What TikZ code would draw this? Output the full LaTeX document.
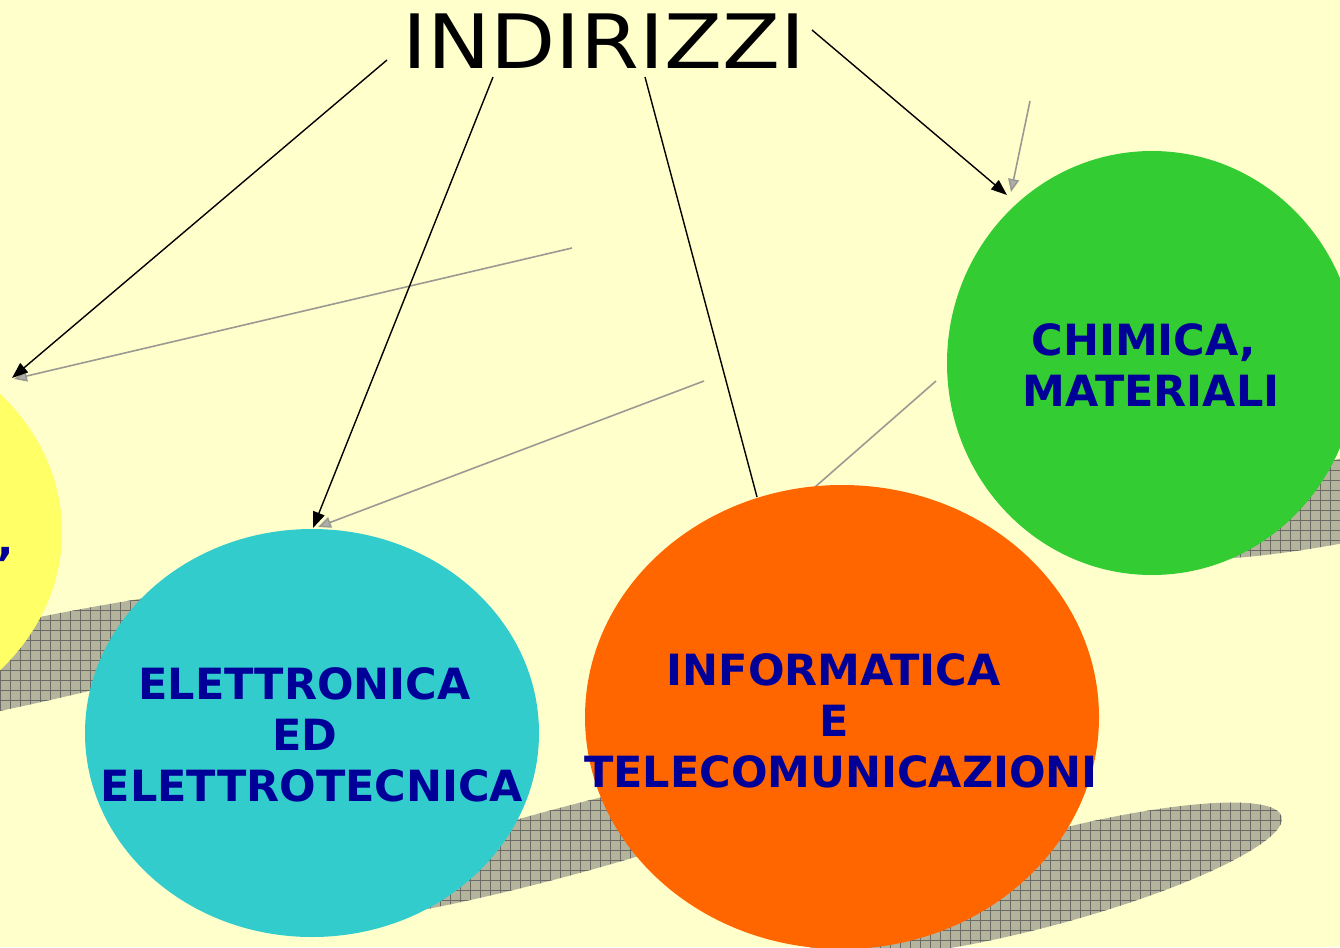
\documentclass[tikz,border=0pt]{standalone}
\usepackage{fontspec}
\setmainfont{DejaVu Sans}
\usetikzlibrary{arrows.meta,shapes.geometric}
\definecolor{bgc}{HTML}{FFFFCC}
\definecolor{ycol}{HTML}{FFFF66}
\definecolor{ccol}{HTML}{33CCCC}
\definecolor{ocol}{HTML}{FF6600}
\definecolor{gcol}{HTML}{33CC33}
\definecolor{tblue}{HTML}{000099}
\definecolor{shadowc}{HTML}{B4B49C}
\definecolor{gridc}{HTML}{6A6A66}
\definecolor{garrc}{HTML}{9A9A92}
\newcommand\shadowell[5]{%
  \begin{scope}
    \clip[shift={(#1,#2)},rotate=#3] (0,0) ellipse [x radius=#4pt,y radius=#5pt];
    \fill[shadowc] (-20,-20) rectangle (1400,1000);
    \draw[gridl,step=10pt] (-20,1000) grid (1400,-20);
  \end{scope}}
\newcommand\trsp{\hbox to 0.34em{}}
\begin{document}
\begin{tikzpicture}[x=1pt,y=-1pt,
  circ/.style={ellipse, inner sep=0pt, draw=none},
  lbl/.style={text=tblue, font=\bfseries\fontsize{43}{51}\selectfont, align=center, inner sep=0pt},
  arr/.style={line width=1.4pt, -{Triangle[length=16pt,width=12pt]}},
  garr/.style={line width=1.6pt, draw=garrc, -{Triangle[length=13pt,width=11pt,fill=garrc!80]}},
  gline/.style={line width=1.6pt, draw=garrc},
  gridl/.style={draw=gridc, line width=0.6pt}]
\useasboundingbox (0,0) rectangle (1340,947);
\fill[bgc] (0,0) rectangle (1340,947);
% shadows
\shadowell{0}{668}{12}{380}{42}
\shadowell{560}{843}{15}{290}{34}
\shadowell{1045}{880}{15}{245}{46}
\shadowell{1370}{495}{12}{240}{42}
% title
\node[font=\fontsize{75}{90}\selectfont, xscale=1.13, inner sep=0pt] (title) at (604,41) {INDIRIZZI};
% coordinates
\coordinate (s1) at (387,60);   \coordinate (t1) at (12,378);
\coordinate (s2) at (493,77);   \coordinate (t2) at (313,528);
\coordinate (s3) at (645,77);   \coordinate (t3) at (757,497);
\coordinate (s4) at (812,30);   \coordinate (t4) at (1007,195);
\coordinate (g1s) at (572,248); \coordinate (g1t) at (14,379);
\coordinate (g2s) at (704,381); \coordinate (g2t) at (318,527);
\coordinate (g3s) at (936,381); \coordinate (g3t) at (815,487);
\coordinate (g4s) at (1030,101);\coordinate (g4t) at (1011,192);
% grey arrows
\draw[garr] (g1s) -- (g1t);
\draw[garr] (g2s) -- (g2t);
\draw[gline] (g3s) -- (g3t);
\draw[garr] (g4s) -- (g4t);
% black arrows
\draw[arr] (s1) -- (t1);
\draw[arr] (s2) -- (t2);
\draw[line width=1.4pt] (s3) -- (t3);
\draw[arr] (s4) -- (t4);
% circles
\node[circ, fill=ycol, minimum width=500pt, minimum height=420pt] (yellow) at (-188,532) {};
\node[circ, fill=ccol, minimum width=454pt, minimum height=408pt] (cyan) at (312,733) {};
\node[circ, fill=ocol, minimum width=514pt, minimum height=464pt] (orange) at (842,717) {};
\node[circ, fill=gcol, minimum width=410pt, minimum height=424pt] (green) at (1152,363) {};
% labels
\node[lbl, anchor=base east] (ytxt) at (14,555) {,};
\node[lbl] (ctxt) at (312,735) {ELETTRONICA\trsp\\ED\trsp\\ELETTROTECNICA};
\node[lbl] (otxt) at (841,721) {INFORMATICA\trsp\\E\trsp\\TELECOMUNICAZIONI};
\node[lbl] (gtxt) at (1151,365) {CHIMICA,\trsp\\MATERIALI};
\end{tikzpicture}
\end{document}
